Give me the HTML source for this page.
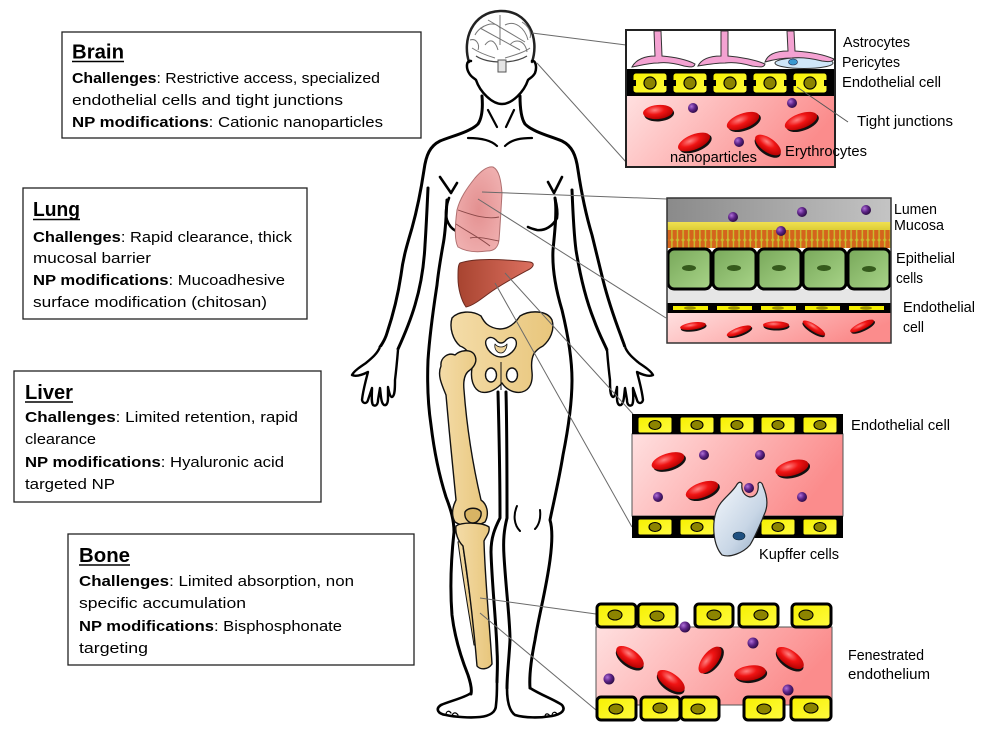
<!DOCTYPE html>
<html><head><meta charset="utf-8"><style>
html,body{margin:0;padding:0;background:#fff;}
svg{display:block;}
text{font-family:"Liberation Sans",sans-serif;fill:#000;}
.b{font-size:15px;}
.lb{font-size:14.5px;}
.ti{font-size:20px;font-weight:bold;}
</style></head><body>
<svg width="1000" height="741" viewBox="0 0 1000 741" xmlns="http://www.w3.org/2000/svg">
<defs>
<linearGradient id="pink" x1="0" y1="0" x2="1" y2="0.3"><stop offset="0" stop-color="#ffe0e0"/><stop offset="1" stop-color="#fb8c8c"/></linearGradient>
<radialGradient id="rbc" cx="0.4" cy="0.35" r="0.7"><stop offset="0" stop-color="#ff8080"/><stop offset="0.45" stop-color="#f01414"/><stop offset="1" stop-color="#b00000"/></radialGradient>
<radialGradient id="np" cx="0.35" cy="0.35" r="0.7"><stop offset="0" stop-color="#b070d8"/><stop offset="0.5" stop-color="#5e2488"/><stop offset="1" stop-color="#2a0a40"/></radialGradient>
<linearGradient id="yel" x1="0" y1="0" x2="1" y2="1"><stop offset="0" stop-color="#f6f000"/><stop offset="1" stop-color="#fffb40"/></linearGradient>
<linearGradient id="lumen" x1="0" y1="0" x2="1" y2="0"><stop offset="0" stop-color="#8a8a8a"/><stop offset="1" stop-color="#c4c4c4"/></linearGradient>
<linearGradient id="muc" x1="0" y1="0" x2="0" y2="1"><stop offset="0" stop-color="#f0e050"/><stop offset="1" stop-color="#d8c830"/></linearGradient>
<linearGradient id="epi" x1="0" y1="0" x2="1" y2="1"><stop offset="0" stop-color="#78a85a"/><stop offset="1" stop-color="#a8d488"/></linearGradient>
<linearGradient id="bone" x1="0" y1="0" x2="1" y2="0"><stop offset="0" stop-color="#f4dca8"/><stop offset="1" stop-color="#e8c67c"/></linearGradient>
<linearGradient id="liver" x1="0" y1="0" x2="1" y2="0"><stop offset="0" stop-color="#a84430"/><stop offset="1" stop-color="#dc7060"/></linearGradient>
<radialGradient id="lung" cx="0.5" cy="0.5" r="0.6"><stop offset="0" stop-color="#e39090"/><stop offset="1" stop-color="#f0b0b0"/></radialGradient>
<linearGradient id="kup" x1="0" y1="0" x2="1" y2="1"><stop offset="0" stop-color="#f4f8fc"/><stop offset="0.6" stop-color="#c8d6e6"/><stop offset="1" stop-color="#8ea6c0"/></linearGradient>
<pattern id="cilia" x="0" y="0" width="5.6" height="20" patternUnits="userSpaceOnUse"><rect width="5.6" height="20" fill="#c8c030"/><rect x="0.6" y="0" width="4.2" height="20" rx="2" fill="#d4641c"/></pattern>
</defs>

<!-- ================= TEXT BOXES ================= -->
<rect x="62" y="32" width="359" height="106" fill="#fff" stroke="#222" stroke-width="1.3"/>
<text class="ti" x="72" y="58.5" textLength="52" lengthAdjust="spacingAndGlyphs">Brain</text>
<line x1="72" y1="61.5" x2="124" y2="61.5" stroke="#000" stroke-width="1.6"/>
<text class="b" x="72" y="83" textLength="308" lengthAdjust="spacingAndGlyphs"><tspan font-weight="bold">Challenges</tspan>: Restrictive access, specialized</text>
<text class="b" x="72" y="105" textLength="271" lengthAdjust="spacingAndGlyphs">endothelial cells and tight junctions</text>
<text class="b" x="72" y="127" textLength="311" lengthAdjust="spacingAndGlyphs"><tspan font-weight="bold">NP modifications</tspan>: Cationic nanoparticles</text>

<rect x="23" y="188" width="284" height="131" fill="#fff" stroke="#222" stroke-width="1.3"/>
<text class="ti" x="33" y="216" textLength="47" lengthAdjust="spacingAndGlyphs">Lung</text>
<line x1="33" y1="219.5" x2="80" y2="219.5" stroke="#000" stroke-width="1.6"/>
<text class="b" x="33" y="242" textLength="259" lengthAdjust="spacingAndGlyphs"><tspan font-weight="bold">Challenges</tspan>: Rapid clearance, thick</text>
<text class="b" x="33" y="263" textLength="118" lengthAdjust="spacingAndGlyphs">mucosal barrier</text>
<text class="b" x="33" y="285" textLength="252" lengthAdjust="spacingAndGlyphs"><tspan font-weight="bold">NP modifications</tspan>: Mucoadhesive</text>
<text class="b" x="33" y="307" textLength="234" lengthAdjust="spacingAndGlyphs">surface modification (chitosan)</text>

<rect x="14" y="371" width="307" height="131" fill="#fff" stroke="#222" stroke-width="1.3"/>
<text class="ti" x="25" y="399" textLength="48" lengthAdjust="spacingAndGlyphs">Liver</text>
<line x1="25" y1="402" x2="73" y2="402" stroke="#000" stroke-width="1.6"/>
<text class="b" x="25" y="422" textLength="273" lengthAdjust="spacingAndGlyphs"><tspan font-weight="bold">Challenges</tspan>: Limited retention, rapid</text>
<text class="b" x="25" y="444" textLength="71" lengthAdjust="spacingAndGlyphs">clearance</text>
<text class="b" x="25" y="467" textLength="259" lengthAdjust="spacingAndGlyphs"><tspan font-weight="bold">NP modifications</tspan>: Hyaluronic acid</text>
<text class="b" x="25" y="489" textLength="90" lengthAdjust="spacingAndGlyphs">targeted NP</text>

<rect x="68" y="534" width="346" height="131" fill="#fff" stroke="#222" stroke-width="1.3"/>
<text class="ti" x="79" y="562" textLength="51" lengthAdjust="spacingAndGlyphs">Bone</text>
<line x1="79" y1="565" x2="130" y2="565" stroke="#000" stroke-width="1.6"/>
<text class="b" x="79" y="586" textLength="275" lengthAdjust="spacingAndGlyphs"><tspan font-weight="bold">Challenges</tspan>: Limited absorption, non</text>
<text class="b" x="79" y="608" textLength="167" lengthAdjust="spacingAndGlyphs">specific  accumulation</text>
<text class="b" x="79" y="631" textLength="263" lengthAdjust="spacingAndGlyphs"><tspan font-weight="bold">NP modifications</tspan>: Bisphosphonate</text>
<text class="b" x="79" y="653" textLength="69" lengthAdjust="spacingAndGlyphs">targeting</text>

<!-- ================= BODY ================= -->
<g fill="none" stroke="#000" stroke-width="3" stroke-linecap="round" stroke-linejoin="round">
<!-- head top / brain outline -->
<path d="M469,62 C462,40 472,12 500,11 C528,10 540,38 532,62" stroke="#222" stroke-width="2.5"/>
<!-- face -->
<path d="M471,61 C466,60 466,68 469,73 C471,77 474,78 476,80 C480,92 492,104 502,104 C512,104 524,92 528,80 C530,78 533,77 535,73 C537,68 536,60 532,61" stroke-width="2.5"/>
<!-- neck & shoulders & outer arms -->
<path d="M482,96 C483,108 482,118 478,124 C470,132 452,136 440,141 C430,146 426,155 424,170 C421,190 417,210 412,228 C407,245 403,258 401,275 C398,295 393,315 387,333 C385,340 382,344 380,347"/>
<path d="M520,96 C520,108 521,118 525,124 C533,132 550,136 562,141 C572,146 576,155 578,170 C581,190 586,215 592,235 C597,255 600,268 603,280 C608,300 615,320 621,336 C623,342 625,346 625,348"/>
<!-- inner arms -->
<path d="M428,188 C427,210 426,230 425,245 C424,265 421,285 415,305 C410,322 403,338 398,349"/>
<path d="M572,190 C573,215 574,235 576,250 C580,275 586,300 594,320 C599,334 604,343 607,350"/>
<!-- left torso + left leg outer -->
<path d="M447,200 C446,215 446,230 443,245 C440,262 438,275 437,285 C434,305 430,330 428,360 C427,385 428,405 431,425 C434,450 439,475 446,497 C451,510 454,520 454,532 C451,560 450,590 452,615 C455,640 462,660 468,675 C471,684 472,690 471,694"/>
<!-- right torso + right leg outer -->
<path d="M555,198 C557,210 555,230 553,250 C552,270 556,290 562,310 C568,335 572,358 572,380 C572,405 568,430 563,455 C559,480 553,505 550,520 C553,530 552,545 550,560 C546,590 539,615 535,640 C531,660 529,675 530,688"/>
<!-- inner legs -->
<path d="M498,392 C499,430 500,480 500,518 C495,528 491,537 491,552 C492,585 496,620 497,650 C498,665 497,675 497,682"/>
<path d="M506,392 C507,430 507,480 507,518 C504,530 503,540 504,556 C506,590 510,620 510,640 C509,660 507,675 507,688"/>
<!-- feet -->
<path d="M471,693 C464,698 450,701 441,705 C435,709 438,714 446,715 C455,717 470,718 480,717 C490,716 496,712 496,705 C497,697 497,690 497,682" stroke-width="2.6"/>
<path d="M507,688 C507,697 508,710 515,715 C525,718 540,718 552,716 C562,714 566,710 562,705 C555,700 541,695 530,688" stroke-width="2.6"/>
<!-- toes -->
<path d="M446,715 C446,711 449,710 451,713 M452,716 C453,712 456,712 458,715 M552,716 C552,712 555,711 557,714 M545,717 C545,713 548,713 550,716" stroke-width="1.2"/>
<!-- knee marks right leg -->
<path d="M517,506 C513,515 514,525 520,531 M540,510 C541,518 539,525 535,529" stroke-width="2"/>
<!-- breasts -->
<path d="M440,177 L451,193 M457,183 L451,193 M449,198 C446,206 445,213 447,220 C449,226 452,229 456,231" stroke-width="2.6"/>
<path d="M548,182 L554,193 M562,177 L554,193 M555,198 C557,206 558,212 557,218 C553,226 545,231 537,230 C533,229 530,228 528,227" stroke-width="2.6"/>
<!-- collarbones & neck -->
<path d="M468,138 C478,138 490,139 497,146 M505,146 C512,139 522,138 532,138" stroke-width="2.2"/>
<path d="M488,110 L497,127 M514,110 L506,127" stroke-width="2.2"/>
</g>
<!-- hands -->
<g fill="#fff" stroke="#000" stroke-width="2.4" stroke-linejoin="round">
<path id="lh" d="M380,347 C377,354 372,358 366,363 C360,367 354,371 352,375 C356,377 362,375 368,372 C366,380 363,390 362,400 C363,404 367,404 368,400 L372,388 C372,395 371,402 373,405 C376,407 378,404 378,400 L380,388 C381,396 381,403 384,405 C387,406 388,402 388,398 L388,387 C389,392 390,397 392,397 C395,396 395,388 395,380 C396,372 397,362 398,350"/>
<path transform="translate(1005,0) scale(-1,1)" d="M380,347 C377,354 372,358 366,363 C360,367 354,371 352,375 C356,377 362,375 368,372 C366,380 363,390 362,400 C363,404 367,404 368,400 L372,388 C372,395 371,402 373,405 C376,407 378,404 378,400 L380,388 C381,396 381,403 384,405 C387,406 388,402 388,398 L388,387 C389,392 390,397 392,397 C395,396 395,388 395,380 C396,372 397,362 398,350"/>
</g>
<!-- brain detail -->
<g fill="none" stroke="#777" stroke-width="1">
<path d="M475,35 C480,25 495,20 500,28 M500,15 L500,45 M485,45 C490,38 495,40 498,50 M505,25 C515,20 525,28 528,40 M510,45 C515,38 525,40 527,52 M472,48 C478,52 485,55 495,58 M505,58 C515,55 525,52 530,48 M480,28 L520,50 M488,20 L525,42 M470,40 C476,38 480,44 478,50 M522,22 C528,26 532,32 530,38"/>
<path d="M476,56 C488,64 514,64 527,56" stroke="#444" stroke-width="1.3"/>
</g>
<rect x="498" y="60" width="8" height="12" fill="#e4e4e4" stroke="#555" stroke-width="1"/>

<!-- lung -->
<path d="M493,167 C499,170 501,180 502,193 C501,210 500,228 499,240 C498,248 494,251 487,251 C480,252 468,253 458,247 C454,240 455,225 457,210 C460,198 467,188 475,178 C481,171 487,166 493,167 Z" fill="url(#lung)" stroke="#b07070" stroke-width="1"/>
<path d="M458,210 C470,214 485,220 499,217 M456,224 C468,232 480,238 490,246 M470,238 C480,236 492,240 499,241" fill="none" stroke="#8a4848" stroke-width="0.9"/>
<!-- liver -->
<path d="M460,263 C475,258 500,259 530,262 C535,263 534,267 528,270 C515,277 500,285 488,294 C480,300 472,306 466,307 C461,300 458,288 458,278 C458,270 458,265 460,263 Z" fill="url(#liver)" stroke="#6b2a20" stroke-width="1"/>

<!-- bones -->
<g stroke="#111" stroke-width="1.4" stroke-linejoin="round">
<path d="M452,318 C458,311 472,310 481,316 C484,322 488,328 500,329 C510,329 516,322 520,316 C530,310 547,310 552,320 C555,330 550,340 543,346 C535,350 530,355 532,372 C533,382 530,390 522,392 C513,394 505,388 502,383 C498,388 490,394 481,392 C474,390 470,380 472,368 C473,355 466,348 460,346 C453,340 449,328 452,318 Z" fill="url(#bone)"/>
<path d="M486,345 C484,338 491,335 496,340 C499,344 503,344 506,340 C511,335 518,338 516,346 C514,352 507,357 501,357 C495,357 488,352 486,345 Z" fill="#fff"/>
<path d="M495,344 C498,348 504,348 507,344 C507,349 504,353 501,353 C497,353 494,349 495,344 Z" fill="#efd49a" stroke-width="0.8"/>
<ellipse cx="491" cy="375" rx="5.5" ry="7" fill="#fff"/>
<ellipse cx="512" cy="375" rx="5.5" ry="7" fill="#fff"/>
<line x1="501" y1="362" x2="501" y2="390" stroke-width="1"/>
<path d="M441,366 C440,358 448,352 455,355 C460,350 470,349 474,354 C478,360 475,366 470,370 C465,373 463,380 464,390 C467,430 474,470 481,500 C488,505 489,515 485,522 C476,527 462,527 455,522 C451,515 452,508 456,500 C453,470 449,430 446,395 C442,385 437,375 441,366 Z" fill="url(#bone)"/>
<path d="M458,542 C463,580 470,620 474,645 L477,645 C472,615 467,575 462,540 Z" fill="url(#bone)" stroke-width="1"/>
<path d="M456,526 C462,522 482,522 489,527 C490,533 486,536 484,541 C485,580 490,630 492,664 C488,670 480,670 477,666 C474,630 469,585 463,546 C458,541 455,533 456,526 Z" fill="url(#bone)"/>
<path d="M465,512 C468,507 478,507 481,512 C482,518 477,523 473,523 C468,523 464,518 465,512 Z" fill="#d8b464"/>
</g>

<!-- connectors -->
<g stroke="#6a6a6a" stroke-width="1" fill="none">
<line x1="532" y1="33" x2="626" y2="45"/>
<line x1="537" y1="63" x2="626" y2="162"/>
<line x1="482" y1="192" x2="667" y2="199"/>
<line x1="478" y1="199" x2="666" y2="318"/>
<line x1="505" y1="273" x2="633" y2="414"/>
<line x1="495" y1="283" x2="632" y2="527"/>
<line x1="480" y1="598" x2="596" y2="614"/>
<line x1="480" y1="613" x2="596" y2="710"/>
</g>

<!-- ================= BRAIN PANEL ================= -->
<rect x="626" y="30" width="209" height="137" fill="#fff"/>
<rect x="627" y="96" width="207" height="70" fill="url(#pink)"/>
<!-- pericyte -->
<ellipse cx="804" cy="63" rx="29" ry="5.5" fill="#cfe6f8" stroke="#333" stroke-width="1"/>
<ellipse cx="793" cy="62" rx="4.5" ry="3" fill="#3a98d0" stroke="#224" stroke-width="0.6"/>
<!-- astrocytes -->
<g fill="#f4a2d2" stroke="#333" stroke-width="1">
<path d="M632,67 C636,59 646,56 655,56 L654,31 L661,31 L662,56 C675,57 688,60 695,64 C694,68 690,67 684,66 C674,63 665,62 658,63 C648,63 638,66 632,67 Z"/>
<path d="M698,66 C702,58 712,56 721,56 L721,31 L728,31 L728,56 C741,57 756,60 765,64 C764,68 759,67 752,66 C742,63 732,62 725,63 C715,63 704,65 698,66 Z"/>
<path d="M765,62 C768,53 778,51 788,51 L787,31 L794,31 L795,51 C810,52 825,55 834,59 C833,62 828,62 822,61 C810,58 800,57 792,58 C782,58 772,60 765,62 Z"/>
</g>
<!-- endothelial band -->
<rect x="626" y="69" width="209" height="27" fill="#000"/>
<g stroke="#000" stroke-width="1">
<rect x="633" y="73" width="34" height="20" rx="3" fill="url(#yel)"/>
<rect x="673" y="73" width="34" height="20" rx="3" fill="url(#yel)"/>
<rect x="713" y="73" width="34" height="20" rx="3" fill="url(#yel)"/>
<rect x="753" y="73" width="34" height="20" rx="3" fill="url(#yel)"/>
<rect x="793" y="73" width="34" height="20" rx="3" fill="url(#yel)"/>
</g>
<g fill="#000">
<rect x="633" y="80" width="3" height="6"/><rect x="664" y="80" width="3" height="6"/>
<rect x="673" y="80" width="3" height="6"/><rect x="704" y="80" width="3" height="6"/>
<rect x="713" y="80" width="3" height="6"/><rect x="744" y="80" width="3" height="6"/>
<rect x="753" y="80" width="3" height="6"/><rect x="784" y="80" width="3" height="6"/>
<rect x="793" y="80" width="3" height="6"/><rect x="824" y="80" width="3" height="6"/>
</g>
<g fill="#8c8400" stroke="#000" stroke-width="1.2">
<circle cx="650" cy="83" r="6"/><circle cx="690" cy="83" r="6"/><circle cx="730" cy="83" r="6"/><circle cx="770" cy="83" r="6"/><circle cx="810" cy="83" r="6"/>
</g>
<!-- RBCs brain -->
<g>
<g transform="translate(658,112) rotate(-5)"><ellipse cx="1" cy="2" rx="15" ry="7.5" fill="#111"/><ellipse rx="15" ry="7" fill="url(#rbc)"/></g>
<g transform="translate(743,121) rotate(-20)"><ellipse cx="1" cy="2" rx="17" ry="8" fill="#111"/><ellipse rx="17" ry="7.5" fill="url(#rbc)"/></g>
<g transform="translate(801,121) rotate(-20)"><ellipse cx="1" cy="2" rx="17" ry="8" fill="#111"/><ellipse rx="17" ry="7.5" fill="url(#rbc)"/></g>
<g transform="translate(694,142) rotate(-22)"><ellipse cx="1" cy="2" rx="17" ry="8" fill="#111"/><ellipse rx="17" ry="7.5" fill="url(#rbc)"/></g>
<g transform="translate(768,145) rotate(35)"><ellipse cx="1" cy="2" rx="15" ry="7.5" fill="#111"/><ellipse rx="15" ry="7" fill="url(#rbc)"/></g>
</g>
<g fill="url(#np)"><circle cx="693" cy="108" r="5"/><circle cx="792" cy="103" r="5"/><circle cx="739" cy="142" r="5"/></g>
<rect x="626" y="30" width="209" height="137" fill="none" stroke="#222" stroke-width="2"/>
<line x1="797" y1="87" x2="848" y2="122" stroke="#555" stroke-width="1"/>
<text class="lb" x="843" y="47" textLength="67" lengthAdjust="spacingAndGlyphs">Astrocytes</text>
<text class="lb" x="842" y="67" textLength="58" lengthAdjust="spacingAndGlyphs">Pericytes</text>
<text class="lb" x="842" y="87" textLength="99" lengthAdjust="spacingAndGlyphs">Endothelial cell</text>
<text class="lb" x="857" y="126" textLength="96" lengthAdjust="spacingAndGlyphs">Tight junctions</text>
<text class="lb" x="785" y="156" textLength="82" lengthAdjust="spacingAndGlyphs">Erythrocytes</text>
<text class="lb" x="670" y="162" textLength="87" lengthAdjust="spacingAndGlyphs">nanoparticles</text>

<!-- ================= LUNG PANEL ================= -->
<rect x="667" y="198" width="224" height="145" fill="#fff"/>
<rect x="667" y="198" width="224" height="24" fill="url(#lumen)"/>
<rect x="667" y="222" width="224" height="10" fill="url(#muc)"/>
<rect x="667" y="230" width="224" height="18" fill="url(#cilia)"/>
<rect x="667" y="289" width="224" height="14" fill="#e6e6e6"/>
<g stroke="#000" stroke-width="3" fill="url(#epi)">
<rect x="668" y="249" width="43" height="40" rx="6"/>
<rect x="713" y="249" width="43" height="40" rx="6"/>
<rect x="758" y="249" width="43" height="40" rx="6"/>
<rect x="803" y="249" width="43" height="40" rx="6"/>
<rect x="848" y="249" width="42" height="40" rx="6"/>
</g>
<g fill="#355a1c"><ellipse cx="689" cy="268" rx="7" ry="3"/><ellipse cx="734" cy="268" rx="7" ry="3"/><ellipse cx="779" cy="268" rx="7" ry="3"/><ellipse cx="824" cy="268" rx="7" ry="3"/><ellipse cx="869" cy="269" rx="7" ry="3"/></g>
<rect x="667" y="303" width="224" height="10" fill="#000"/>
<g fill="#f4ee00"><rect x="673" y="306" width="35" height="4"/><rect x="717" y="306" width="35" height="4"/><rect x="761" y="306" width="35" height="4"/><rect x="805" y="306" width="35" height="4"/><rect x="849" y="306" width="35" height="4"/></g>
<g fill="#9a9000"><ellipse cx="690" cy="308" rx="6" ry="1.8"/><ellipse cx="734" cy="308" rx="6" ry="1.8"/><ellipse cx="778" cy="308" rx="6" ry="1.8"/><ellipse cx="822" cy="308" rx="6" ry="1.8"/><ellipse cx="866" cy="308" rx="6" ry="1.8"/></g>
<rect x="667" y="313" width="224" height="30" fill="url(#pink)"/>
<g>
<g transform="translate(693,326) rotate(-8)"><ellipse cx="0.5" cy="1.5" rx="13" ry="4" fill="#111"/><ellipse rx="13" ry="3.6" fill="url(#rbc)"/></g>
<g transform="translate(739,331) rotate(-20)"><ellipse cx="0.5" cy="1.5" rx="13" ry="4" fill="#111"/><ellipse rx="13" ry="3.6" fill="url(#rbc)"/></g>
<g transform="translate(776,325) rotate(0)"><ellipse cx="0.5" cy="1.5" rx="13" ry="4" fill="#111"/><ellipse rx="13" ry="3.6" fill="url(#rbc)"/></g>
<g transform="translate(814,328) rotate(32)"><ellipse cx="0.5" cy="1.5" rx="13" ry="4" fill="#111"/><ellipse rx="13" ry="3.6" fill="url(#rbc)"/></g>
<g transform="translate(862,326) rotate(-25)"><ellipse cx="0.5" cy="1.5" rx="13" ry="4" fill="#111"/><ellipse rx="13" ry="3.6" fill="url(#rbc)"/></g>
</g>
<g fill="url(#np)"><circle cx="733" cy="217" r="5"/><circle cx="802" cy="212" r="5"/><circle cx="866" cy="210" r="5"/><circle cx="781" cy="231" r="5"/></g>
<rect x="667" y="198" width="224" height="145" fill="none" stroke="#333" stroke-width="1.5"/>
<text class="lb" x="894" y="214" textLength="43" lengthAdjust="spacingAndGlyphs">Lumen</text>
<text class="lb" x="894" y="230" textLength="50" lengthAdjust="spacingAndGlyphs">Mucosa</text>
<text class="lb" x="896" y="263" textLength="59" lengthAdjust="spacingAndGlyphs">Epithelial</text>
<text class="lb" x="896" y="283" textLength="27" lengthAdjust="spacingAndGlyphs">cells</text>
<text class="lb" x="903" y="312" textLength="72" lengthAdjust="spacingAndGlyphs">Endothelial</text>
<text class="lb" x="903" y="332" textLength="21" lengthAdjust="spacingAndGlyphs">cell</text>

<!-- ================= LIVER PANEL ================= -->
<rect x="632" y="434" width="211" height="82" fill="url(#pink)" stroke="#555" stroke-width="1"/>
<rect x="632" y="414" width="211" height="20" fill="#000"/>
<rect x="632" y="516" width="211" height="22" fill="#000"/>
<g stroke="#000" stroke-width="1" fill="url(#yel)">
<rect x="638" y="417" width="34" height="16" rx="2"/><rect x="680" y="417" width="34" height="16" rx="2"/><rect x="720" y="417" width="34" height="16" rx="2"/><rect x="761" y="417" width="34" height="16" rx="2"/><rect x="803" y="417" width="34" height="16" rx="2"/>
<rect x="638" y="519" width="34" height="16" rx="2"/><rect x="680" y="519" width="34" height="16" rx="2"/><rect x="761" y="519" width="34" height="16" rx="2"/><rect x="803" y="519" width="34" height="16" rx="2"/>
</g>
<g fill="#8c8400" stroke="#000" stroke-width="1.1">
<ellipse cx="655" cy="425" rx="6" ry="4.5"/><ellipse cx="697" cy="425" rx="6" ry="4.5"/><ellipse cx="737" cy="425" rx="6" ry="4.5"/><ellipse cx="778" cy="425" rx="6" ry="4.5"/><ellipse cx="820" cy="425" rx="6" ry="4.5"/>
<ellipse cx="655" cy="527" rx="6" ry="4.5"/><ellipse cx="697" cy="527" rx="6" ry="4.5"/><ellipse cx="778" cy="527" rx="6" ry="4.5"/><ellipse cx="820" cy="527" rx="6" ry="4.5"/>
</g>
<g>
<g transform="translate(668,461) rotate(-18)"><ellipse cx="1" cy="2" rx="17" ry="8" fill="#111"/><ellipse rx="17" ry="7.5" fill="url(#rbc)"/></g>
<g transform="translate(702,490) rotate(-20)"><ellipse cx="1" cy="2" rx="17" ry="8" fill="#111"/><ellipse rx="17" ry="7.5" fill="url(#rbc)"/></g>
<g transform="translate(792,468) rotate(-15)"><ellipse cx="1" cy="2" rx="17" ry="8" fill="#111"/><ellipse rx="17" ry="7.5" fill="url(#rbc)"/></g>
</g>
<g fill="url(#np)"><circle cx="704" cy="455" r="5"/><circle cx="760" cy="455" r="5"/><circle cx="658" cy="497" r="5"/><circle cx="802" cy="497" r="5"/></g>
<path d="M722,555 C713,545 712,525 716,512 C720,500 730,495 736,486 C738,482 741,481 742,484 C741,490 744,496 750,497 C757,497 759,490 758,484 C759,481 762,482 763,486 C767,495 769,505 764,515 C760,525 756,535 750,545 C743,553 730,558 722,555 Z" fill="url(#kup)" stroke="#222" stroke-width="1.2"/>
<circle cx="749" cy="488" r="5" fill="url(#np)"/>
<ellipse cx="739" cy="536" rx="6" ry="4" fill="#1f5080" stroke="#0a2030" stroke-width="0.6"/>
<text class="lb" x="851" y="430" textLength="99" lengthAdjust="spacingAndGlyphs">Endothelial cell</text>
<text class="lb" x="759" y="559" textLength="80" lengthAdjust="spacingAndGlyphs">Kupffer cells</text>

<!-- ================= BONE PANEL ================= -->
<rect x="596" y="627" width="236" height="78" fill="url(#pink)" stroke="#555" stroke-width="1"/>
<g>
<g transform="translate(630,657) rotate(35)"><ellipse cx="1" cy="2" rx="16" ry="8" fill="#111"/><ellipse rx="16" ry="7.5" fill="url(#rbc)"/></g>
<g transform="translate(671,681) rotate(35)"><ellipse cx="1" cy="2" rx="16" ry="8" fill="#111"/><ellipse rx="16" ry="7.5" fill="url(#rbc)"/></g>
<g transform="translate(710,660) rotate(-52)"><ellipse cx="1" cy="2" rx="16" ry="8" fill="#111"/><ellipse rx="16" ry="7.5" fill="url(#rbc)"/></g>
<g transform="translate(750,673) rotate(-8)"><ellipse cx="1" cy="2" rx="16" ry="8" fill="#111"/><ellipse rx="16" ry="7.5" fill="url(#rbc)"/></g>
<g transform="translate(790,658) rotate(35)"><ellipse cx="1" cy="2" rx="16" ry="8" fill="#111"/><ellipse rx="16" ry="7.5" fill="url(#rbc)"/></g>
</g>
<g stroke="#000" stroke-width="3" fill="url(#yel)">
<rect x="597" y="604" width="39" height="23" rx="4"/><rect x="638" y="604" width="39" height="23" rx="4"/><rect x="695" y="604" width="38" height="23" rx="4"/><rect x="739" y="604" width="39" height="23" rx="4"/><rect x="792" y="604" width="39" height="23" rx="4"/>
<rect x="597" y="697" width="39" height="23" rx="4"/><rect x="641" y="697" width="39" height="23" rx="4"/><rect x="681" y="697" width="38" height="23" rx="4"/><rect x="744" y="697" width="40" height="23" rx="4"/><rect x="791" y="697" width="40" height="23" rx="4"/>
</g>
<g fill="#8c8400" stroke="#000" stroke-width="1.1">
<ellipse cx="615" cy="615" rx="7" ry="5"/><ellipse cx="657" cy="616" rx="7" ry="5"/><ellipse cx="714" cy="615" rx="7" ry="5"/><ellipse cx="761" cy="615" rx="7" ry="5"/><ellipse cx="806" cy="615" rx="7" ry="5"/>
<ellipse cx="616" cy="709" rx="7" ry="5"/><ellipse cx="660" cy="708" rx="7" ry="5"/><ellipse cx="698" cy="709" rx="7" ry="5"/><ellipse cx="764" cy="709" rx="7" ry="5"/><ellipse cx="811" cy="708" rx="7" ry="5"/>
</g>
<g fill="url(#np)"><circle cx="685" cy="627" r="5.5"/><circle cx="753" cy="643" r="5.5"/><circle cx="609" cy="679" r="5.5"/><circle cx="788" cy="690" r="5.5"/></g>
<text class="lb" x="848" y="660" textLength="76" lengthAdjust="spacingAndGlyphs">Fenestrated</text>
<text class="lb" x="848" y="679" textLength="82" lengthAdjust="spacingAndGlyphs">endothelium</text>
</svg>
</body></html>
